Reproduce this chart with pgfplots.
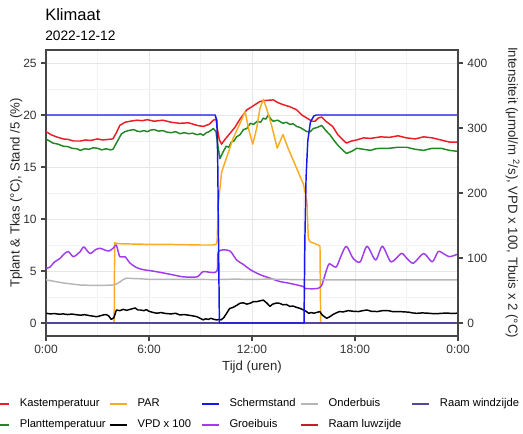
\documentclass[border=0pt]{standalone}
\usepackage{fontspec}
\setmainfont{Liberation Sans}
\usepackage{pgfplots}
\pgfplotsset{compat=1.18}

\definecolor{kas}{RGB}{236,28,36}
\definecolor{plant}{RGB}{34,135,34}
\definecolor{par}{RGB}{250,172,32}
\definecolor{scherm}{RGB}{22,22,238}
\definecolor{groei}{RGB}{160,60,236}
\definecolor{onder}{RGB}{182,182,182}
\definecolor{luw}{RGB}{192,32,40}
\definecolor{wind}{RGB}{82,72,152}
\definecolor{axisgray}{RGB}{70,70,70}
\definecolor{gridmaj}{RGB}{230,230,230}
\definecolor{gridmin}{RGB}{243,243,243}

\begin{document}
\begin{tikzpicture}
% title and date
\node[anchor=base west, inner sep=0pt] at (33.75pt,310pt) {\fontsize{12.4}{14}\selectfont Klimaat};
\node[anchor=base west, inner sep=0pt] at (33.75pt,295pt) {\fontsize{10.3}{12}\selectfont 2022-12-12};

\begin{axis}[
  at={(34.5pt,73.5pt)}, anchor=south west,
  scale only axis, width=309pt, height=214.5pt,
  xmin=0, xmax=24, ymin=-1.25, ymax=26.25,
  xtick={0,6,12,18,24}, xticklabels={0:00,6:00,12:00,18:00,0:00},
  minor xtick={3,9,15,21},
  ytick={0,5,...,25}, minor ytick={2.5,7.5,...,22.5},
  grid=both,
  major grid style={color=gridmaj, line width=0.7pt},
  minor grid style={color=gridmin, line width=0.5pt},
  tick align=outside, major tick length=3.5pt, minor tick length=0pt,
  xtick pos=left, ytick pos=left,
  tick style={color=axisgray, line width=0.8pt},
  axis line style={color=axisgray, line width=0.9pt},
  tick label style={font=\fontsize{9}{10}\selectfont, color=black!80},
  /pgf/number format/assume math mode=true,
  xlabel={Tijd (uren)},
  xlabel style={at={(axis description cs:0.5,-0.07)}, anchor=north, font=\fontsize{9.9}{11}\selectfont, color=black!85},
  ylabel={Tplant \& Tkas (°C), Stand /5 (\%)},
  ylabel style={at={(axis description cs:-0.046,0.5)}, anchor=south, font=\fontsize{9.9}{11}\selectfont, color=black!85},
  legend columns=5,
  legend cell align=left,
  legend image code/.code={\draw[#1, line width=1.5pt] (0pt,0pt) -- (12.75pt,0pt);},
  legend style={draw=none, fill=none, at={(axis description cs:-0.143,-0.208)}, anchor=north west,
    font=\fontsize{8.4}{10}\selectfont, row sep=7.4pt,
    nodes={inner sep=0pt, text height=6.4pt, text depth=1.8pt},
    /tikz/every odd column/.append style={column sep=7.1pt},
    /tikz/column 2/.append style={column sep=2.5pt},
    /tikz/column 4/.append style={column sep=7.5pt},
    /tikz/column 6/.append style={column sep=3.5pt},
    /tikz/column 8/.append style={column sep=7.5pt}},
  every axis plot/.append style={line width=1.1pt, line join=round},
]

% greenhouse air temperature (deg C)
\addplot[kas, forget plot] coordinates {
(0,18.4) (0.3,18.1) (0.6,17.9) (1.0,17.7) (1.3,17.65) (1.6,17.5) (2.0,17.5) (2.3,17.6)
(2.6,17.55) (3.0,17.7) (3.3,17.6) (3.6,17.65) (3.9,17.7) (4.1,18.3) (4.3,19.0) (4.6,19.3)
(4.9,19.4) (5.3,19.5) (5.6,19.45) (5.9,19.55) (6.3,19.4) (6.8,19.5) (7.3,19.3) (7.8,19.2)
(8.3,19.25) (8.8,19.0) (9.16,18.9) (9.5,19.1) (9.75,19.5) (9.9,19.6) (10.0,18.5) (10.1,17.6)
(10.23,17.2) (10.4,17.6) (10.7,18.2) (11.0,18.8) (11.3,19.6) (11.7,20.5) (12.0,20.8) (12.46,21.3)
(12.8,21.4) (13.24,21.45) (13.5,21.2) (13.8,21.0) (14.2,20.8) (14.6,20.5) (14.9,20.0) (15.2,19.7)
(15.5,19.4) (15.67,19.4) (15.85,19.7) (16.06,19.8) (16.3,19.4) (16.7,18.9) (17.0,18.1) (17.3,17.6)
(17.5,17.3) (17.8,17.5) (18.1,17.6) (18.5,17.8) (18.9,17.75) (19.5,17.9) (20.0,17.85) (20.5,18.0)
(21.0,17.8) (21.5,17.7) (22.0,17.9) (22.5,17.8) (23.0,17.6) (23.5,17.4) (24.0,17.4)};

% plant temperature (deg C)
\addplot[plant, forget plot] coordinates {
(0,17.7) (0.4,17.3) (0.7,17.2) (1.0,17.0) (1.3,16.95) (1.5,16.8) (1.8,16.75) (2.0,16.6)
(2.25,16.75) (2.5,16.7) (2.75,16.85) (3.0,16.8) (3.25,16.65) (3.5,16.75) (3.75,16.65) (3.9,16.7)
(4.1,17.3) (4.4,18.2) (4.6,18.4) (4.8,18.5) (5.1,18.6) (5.3,18.45) (5.5,18.4) (5.7,18.5)
(5.9,18.4) (6.1,18.55) (6.3,18.6) (6.55,18.45) (6.8,18.5) (7.05,18.35) (7.3,18.3) (7.55,18.4)
(7.8,18.2) (8.05,18.3) (8.3,18.2) (8.55,18.25) (8.8,18.1) (9.0,18.2) (9.16,18.05) (9.35,18.3)
(9.5,18.4) (9.75,18.7) (9.9,18.4) (10.0,17.2) (10.13,15.8) (10.3,16.4) (10.5,17.0) (10.65,16.9)
(10.8,17.4) (10.95,17.5) (11.1,17.9) (11.3,18.1) (11.5,18.6) (11.7,18.7) (11.9,19.2) (12.1,19.1)
(12.3,19.4) (12.5,19.3) (12.66,19.7) (12.8,19.6) (12.95,20.0) (13.1,19.6) (13.24,19.4) (13.5,19.5)
(13.8,19.2) (14.0,19.3) (14.2,19.1) (14.4,19.15) (14.6,18.9) (14.8,18.8) (15.0,18.6) (15.2,18.4)
(15.4,18.4) (15.57,18.7) (15.8,18.8) (16.06,19.0) (16.3,18.5) (16.54,18.1) (16.8,17.5) (17.0,17.1)
(17.3,16.6) (17.5,16.3) (17.8,16.5) (18.1,16.8) (18.5,16.7) (18.9,16.6) (19.2,16.75) (19.5,16.8)
(20.0,16.8) (20.5,16.9) (21.0,16.9) (21.5,16.7) (22.0,16.6) (22.5,16.8) (23.0,16.8) (23.5,16.6)
(24.0,16.5)};

% PAR intensity (umol/m2/s), right-hand scale
\addplot[par, forget plot] table[y expr=\thisrowno{1}/16] {
t v
0 0
3.97 0
4.0 123.5
4.2 122
5 121.5
6 121
7 121
8 120.5
9 120
9.7 120
9.9 121
9.97 125
10.03 181.6
10.23 232
10.5 253
10.9 284
11.3 307
11.6 325
11.8 299
12.04 275
12.27 299
12.46 330
12.66 344
12.85 330
13.14 304
13.47 269
13.8 290
14.1 269
14.6 238
15.0 213
15.2 187
15.28 130
15.38 125
15.86 120
15.96 118
16.0 0
24 0
};

% VPD x 100, right-hand scale
\addplot[black, forget plot] table[y expr=\thisrowno{1}/16] {
t v
0 15
0.25 14
0.5 14.5
0.75 13.5
1.0 14
1.25 13
1.5 13.8
1.75 12.8
2.0 12
2.25 12.8
2.5 11.5
2.75 10.5
2.95 9.6
3.15 11
3.35 12.5
3.5 13
3.65 11
3.8 5.6
3.95 8
4.1 20
4.3 19
4.5 21
4.7 19.5
4.9 21
5.1 22.5
5.2 23
5.35 20
5.5 20
5.7 19
5.85 20.5
6.0 18
6.2 16.5
6.45 15
6.7 16
7.0 14.5
7.3 14
7.55 15
7.8 12.3
8.05 13
8.3 12
8.55 11
8.8 9.6
9.0 7
9.16 4.8
9.3 6.5
9.45 5.5
9.6 7.2
9.8 5.5
9.94 4.8
10.1 5.5
10.2 4.8
10.35 8
10.5 14
10.7 22.4
10.9 24
11.1 27
11.3 30.4
11.5 31
11.7 29
11.9 30.5
12.1 33
12.27 32.8
12.45 34
12.66 35.2
12.85 31
13.05 25.6
13.2 29
13.4 30.5
13.6 30.4
13.8 28
14.0 28.5
14.2 25.6
14.4 26
14.6 24
14.8 22.5
15.0 20
15.15 18
15.3 14.9
15.45 16
15.6 15
15.8 16.5
15.95 17.6
16.1 12
16.35 7.2
16.55 10
16.7 12.8
16.9 15.5
17.1 17.6
17.3 17
17.6 19
17.9 18
18.2 17.6
18.45 19
18.7 20
18.95 18
19.3 17.6
19.6 19
19.9 19.2
20.2 17.5
20.6 17.6
20.9 17
21.1 16.8
21.35 15.5
21.6 14.9
21.9 15.5
22.2 15.2
22.5 14.5
22.8 14.4
23.1 15
23.4 15.2
23.7 14.6
24 15.2
};

% growing pipe temperature x 2, right-hand scale
\addplot[groei, forget plot, smooth, tension=0.45] table[y expr=\thisrowno{1}/16] {
t v
0 84
0.23 86
0.5 94
0.8 99
1.05 106
1.3 110
1.6 102
2.0 110
2.2 117
2.56 107
2.9 113
3.15 115
3.45 112
3.7 111
3.95 116
4.1 120
4.3 102
4.6 102
4.9 92
5.3 85
5.67 82
6.2 80
6.83 77
7.4 74
8.0 71
8.8 71
9.16 79
9.94 79
10.05 110
10.7 111
11.1 97
11.5 90
11.9 82
12.5 74
13.05 69
13.6 64
14.2 61
15.0 56
15.1 53
15.8 53
16.06 58
16.3 78
16.5 91
16.9 86
17.2 104
17.5 118
17.9 99
18.3 94
18.7 118
19.2 97
19.6 118
20.1 94
20.7 107
21.0 100
21.4 92
22.0 107
22.5 94
22.85 110
23.2 106
23.5 102
24.0 106
};

% lower heating pipe temperature x 2, right-hand scale
\addplot[onder, forget plot] table[y expr=\thisrowno{1}/16] {
t v
0 66.4
0.5 64
1.0 61.6
1.5 60
2.0 58.4
2.5 58
3.0 58
3.5 58
3.9 58.5
4.1 60
4.3 63
4.5 67
4.7 69
5.0 68.5
5.5 68
6 67.2
7 67
8 67
9 67
10 66.8
11 67.5
12 67
13 67.5
14 67
15 66.5
16 66.5
18 66.5
20 66.5
22 66.4
24 66.4
};

% vent openings (percent / 5), both closed all day
\addplot[luw, forget plot] coordinates {(0,0) (24,0)};
\addplot[wind, forget plot] coordinates {(0,0) (24,0)};

% screen position (percent / 5)
\addplot[scherm, forget plot] coordinates {
(0,20) (9.85,20) (9.95,19.5) (10.0,16) (10.05,8) (10.1,0) (15.03,0) (15.08,8)
(15.15,14) (15.25,17.5) (15.4,19.3) (15.6,19.9) (15.75,20) (24,20)};

% legend, in two rows
\addlegendimage{kas}\addlegendentry{Kastemperatuur}
\addlegendimage{par}\addlegendentry{PAR}
\addlegendimage{scherm}\addlegendentry{Schermstand}
\addlegendimage{onder}\addlegendentry{Onderbuis}
\addlegendimage{wind}\addlegendentry{Raam windzijde}
\addlegendimage{plant}\addlegendentry{Planttemperatuur}
\addlegendimage{black}\addlegendentry{VPD x 100}
\addlegendimage{groei}\addlegendentry{Groeibuis}
\addlegendimage{luw}\addlegendentry{Raam luwzijde}
\end{axis}

% right-hand scale: intensity, VPD x 100, pipe temperature x 2
\begin{axis}[
  at={(34.5pt,73.5pt)}, anchor=south west,
  scale only axis, width=309pt, height=214.5pt,
  xmin=0, xmax=24, ymin=-20, ymax=420,
  axis x line=none, axis y line*=right,
  ytick={0,100,...,400},
  tick align=outside, major tick length=3.5pt,
  tick style={color=axisgray, line width=0.8pt},
  axis line style={color=axisgray, line width=0.9pt},
  tick label style={font=\fontsize{9}{10}\selectfont, color=black!80},
  /pgf/number format/assume math mode=true,
]
\addplot[draw=none, forget plot] coordinates {(0,0)};
\end{axis}

\node[rotate=-90, anchor=south, inner sep=0pt, font=\fontsize{9.9}{11}\selectfont, color=black!85]
  at (379pt,181pt) {Intensiteit (μmol/m \textsuperscript{2}/s), VPD x 100, Tbuis x 2 (°C)};

\pgfresetboundingbox
\useasboundingbox (0,0) rectangle (392.25pt,325.5pt);
\end{tikzpicture}
\end{document}
